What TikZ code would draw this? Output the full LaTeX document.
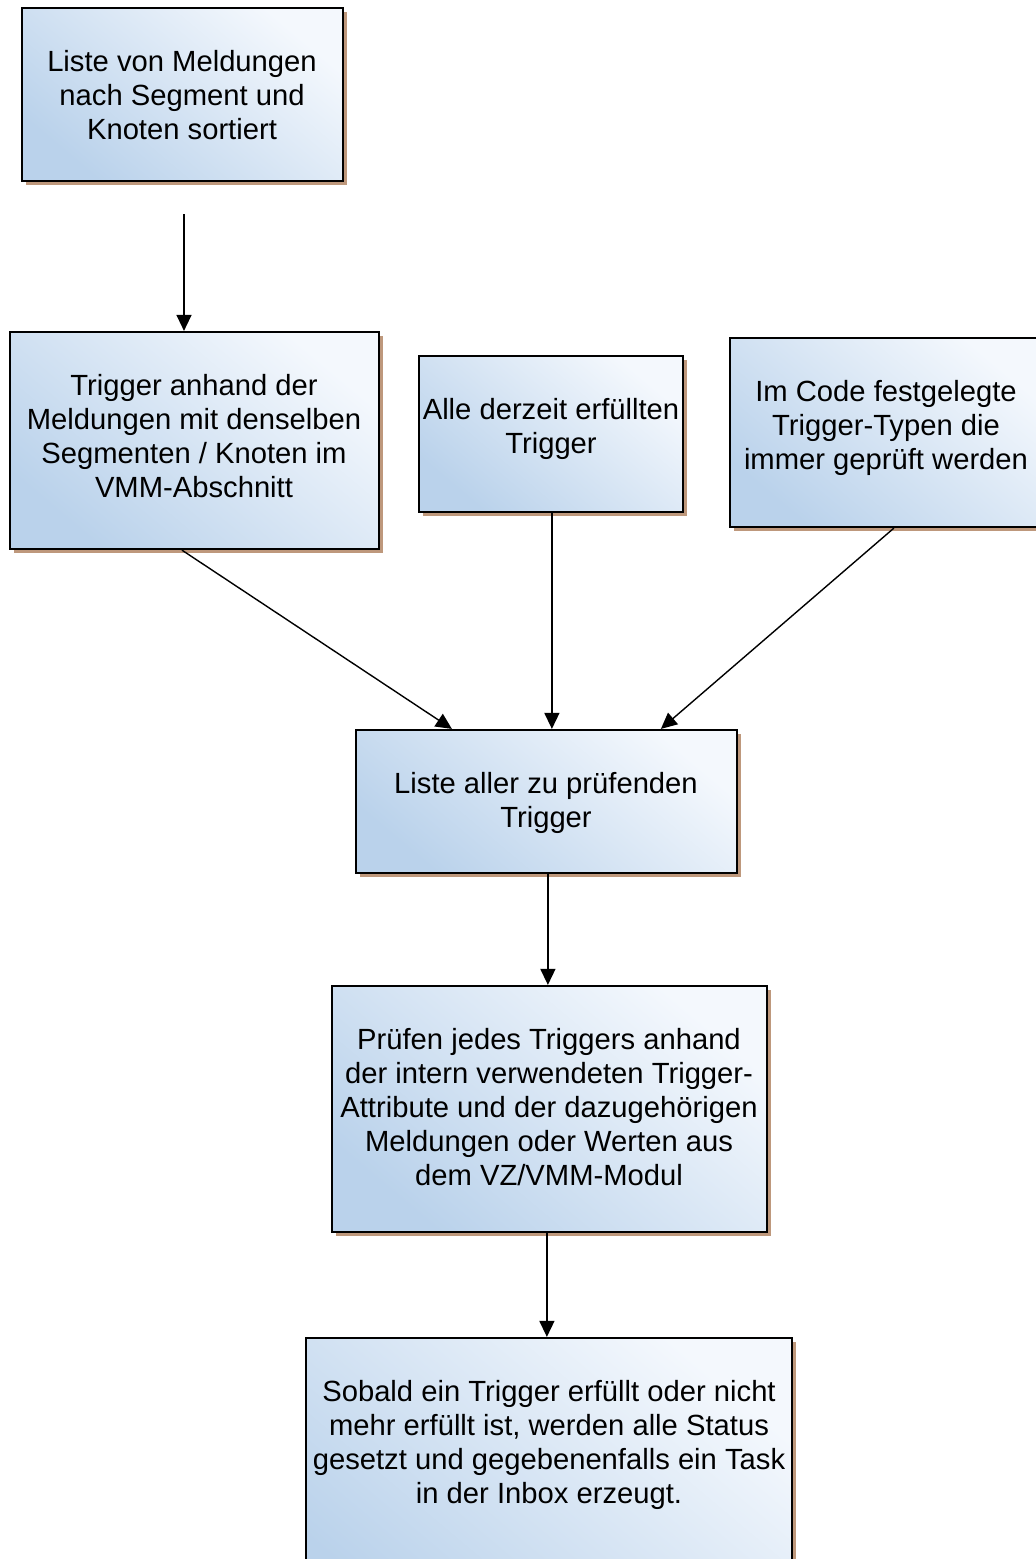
\documentclass[tikz,border=0pt]{standalone}
\usepackage{fontspec}
\setmainfont{Liberation Sans}
\usetikzlibrary{arrows.meta,shadows,calc}
\definecolor{lightc}{RGB}{244,248,253}
\definecolor{darkc}{RGB}{186,210,235}
\definecolor{shadowc}{RGB}{190,152,124}
\tikzset{
  box/.style={draw=black, line width=1.1pt, inner sep=0pt,
    top color=lightc, bottom color=darkc, middle color=lightc!50!darkc, shading angle=-40,
    drop shadow={shadow xshift=2pt, shadow yshift=-2pt, fill=shadowc, opacity=1}},
  txt/.style={align=center, inner sep=0pt, font=\fontsize{14.6}{17}\selectfont},
  arr/.style={line width=0.7pt, -{Triangle[length=8pt,width=7.5pt]}}
}
\begin{document}
\begin{tikzpicture}[x=0.5pt,y=-0.5pt]
\useasboundingbox (0,0) rectangle (1036,1559);
% boxes
\node[box, minimum width=160.5pt, minimum height=86.5pt] (b1) at (182.5,94.5) {};
\node[box, minimum width=184.5pt, minimum height=108.5pt] (b2) at (194.5,440.5) {};
\node[box, minimum width=132pt, minimum height=78pt] (b3) at (551,434) {};
\node[box, minimum width=157pt, minimum height=94.5pt] (b4) at (887,432.5) {};
\node[box, minimum width=190.5pt, minimum height=71.5pt] (b5) at (546.5,801.5) {};
\node[box, minimum width=217.5pt, minimum height=123pt] (b6) at (549.5,1109) {};
\node[box, minimum width=243pt, minimum height=151pt] (b7) at (549,1489) {};
% texts
\node[txt] (t1) at (182,95) {Liste von Meldungen\\nach Segment und\\Knoten sortiert};
\node[txt] (t2) at (194,436) {Trigger anhand der\\Meldungen mit denselben\\Segmenten / Knoten im\\VMM-Abschnitt};
\node[txt] (t3) at (551,429) {Alle derzeit erfüllten\\Trigger};
\node[txt] (t4) at (886,428) {Im Code festgelegte\\Trigger-Typen die\\immer geprüft werden};
\node[txt] (t5) at (546,803) {Liste aller zu prüfenden\\Trigger};
\node[txt] (t6) at (549,1107) {Prüfen jedes Triggers anhand\\der intern verwendeten Trigger-\\Attribute und der dazugehörigen\\Meldungen oder Werten aus\\dem VZ/VMM-Modul};
\node[txt] (t7) at (549,1445) {Sobald ein Trigger erfüllt oder nicht\\mehr erfüllt ist, werden alle Status\\gesetzt und gegebenenfalls ein Task\\in der Inbox erzeugt.};
% connectors
\coordinate (a1s) at (184,214);
\draw[arr] (a1s) -- (b2.north -| a1s);
\draw[arr] ($(b2.south west)+(173,0)$) -- ($(b5.north west)+(97,0)$);
\draw[arr] ($(b3.south west)+(134,0)$) -- ($(b5.north west)+(197,0)$);
\draw[arr] ($(b4.south west)+(165,0)$) -- ($(b5.north west)+(306,0)$);
\draw[arr] ($(b5.south west)+(193,0)$) -- ($(b6.north west)+(217,0)$);
\draw[arr] ($(b6.south west)+(216,0)$) -- ($(b7.north west)+(242,0)$);
\end{tikzpicture}
\end{document}
